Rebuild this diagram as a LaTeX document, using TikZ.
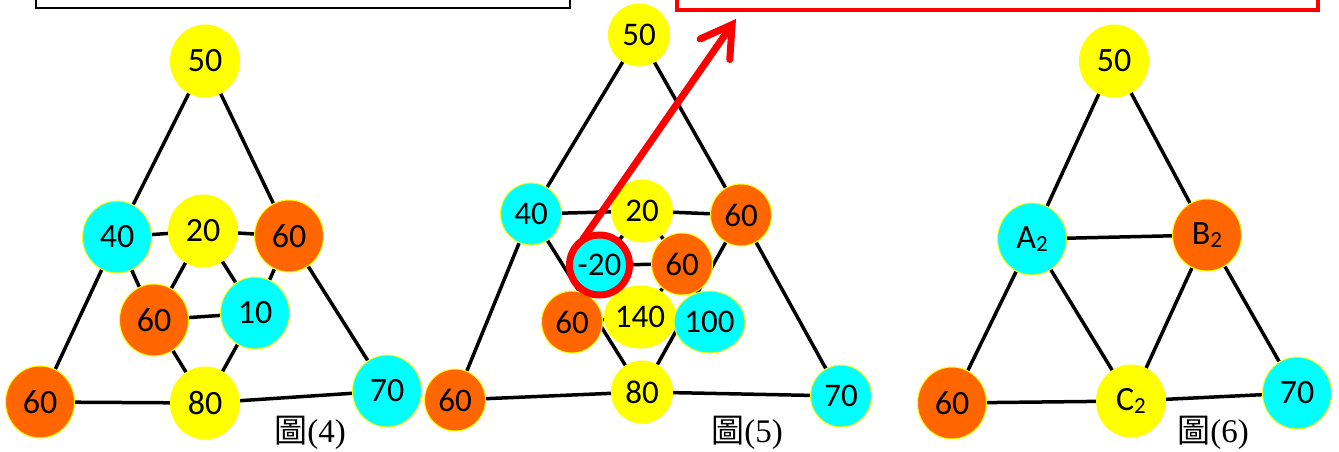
\documentclass[tikz,border=0pt]{standalone}
\usepackage{fontspec}
\setmainfont{Liberation Serif}
\newfontfamily\numfont{Carlito}
\newfontfamily\cjkfont{Noto Sans CJK TC}
\usetikzlibrary{shapes.geometric,arrows.meta,backgrounds}
\definecolor{cy}{HTML}{00FFFF}
\definecolor{og}{HTML}{FF6600}
\definecolor{ye}{HTML}{FFFF00}
\definecolor{rd}{HTML}{FF0000}
\newcommand{\subtwo}[1]{#1\raisebox{-3pt}{\fontsize{23}{23}\selectfont 2}}
\begin{document}
\begin{tikzpicture}[x=1pt,y=-1pt,
  big/.style={ellipse, minimum width=69pt, minimum height=72pt, inner sep=0pt,
              draw=ye, line width=1pt, font=\numfont\fontsize{34}{34}\selectfont},
  small/.style={big, minimum width=61pt, minimum height=62pt, font=\numfont\fontsize{33}{33}\selectfont},
  cyn/.style={fill=cy}, org/.style={fill=og}, yel/.style={fill=ye},
  link/.style={line width=3.5pt, black},
  lbl/.style={font=\fontsize{33}{33}\selectfont, inner sep=0pt}]
\useasboundingbox (0,0) rectangle (1339,452);
\clip (0,0) rectangle (1339,452);
% top boxes (only their lower parts are visible)
\draw[line width=2.2pt] (36,-40) rectangle (570,8);
\draw[rd, line width=4.5pt] (677,-40) rectangle (1318,10);

% ---------- Figure 4 ----------
\node[big,yel] (a50)  at (205,61)  {50};
\node[big,cyn] (a40)  at (117,237) {40};
\node[big,yel] (a20)  at (203,231) {20};
\node[big,org] (a60r) at (289,236) {60};
\node[big,org] (a60m) at (154,320) {60};
\node[big,cyn] (a10)  at (255,313) {10};
\node[big,org] (a60b) at (40,402)  {60};
\node[big,yel] (a80)  at (205,403) {80};
\node[big,cyn] (a70)  at (387,391) {70};

% ---------- Figure 5 ----------
\node[small,yel] (b50)  at (639,35)    {50};
\node[small,cyn] (b40)  at (531,214)   {40};
\node[small,yel] (b20)  at (642,211)   {20};
\node[small,org] (b60r) at (741,215)   {60};
\node[small,cyn] (bm20) at (599.5,265) {-20};
\node[small,org] (b60m) at (682,264)   {60};
\node[small,org] (b60l) at (572,322)   {60};
\node[small,yel] (b140) at (640,317)   {140};
\node[small,cyn] (b100) at (709.5,322) {100};
\node[small,org] (b60b) at (455,400)   {60};
\node[small,yel] (b80)  at (642,392)   {80};
\node[small,cyn] (b70)  at (841,396)   {70};

% ---------- Figure 6 ----------
\node[big,yel] (c50) at (1114,61)  {50};
\node[big,cyn] (cA)  at (1032,239) {\subtwo{A}};
\node[big,org] (cB)  at (1207,235) {\subtwo{B}};
\node[big,org] (c60) at (952,403)  {60};
\node[big,yel] (cC)  at (1131,401) {\subtwo{C}};
\node[big,cyn] (c70) at (1297,393) {70};

\begin{pgfonlayer}{background}
\foreach \u/\v in {a50/a40, a50/a60r, a40/a20, a20/a60r, a40/a60m, a20/a60m,
                   a20/a10, a60m/a10, a60r/a10, a60m/a80, a10/a80, a40/a60b,
                   a60r/a70, a60b/a80, a80/a70,
                   b50/b40, b50/b60r, b40/b20, b20/b60r, b40/b60b, b60r/b70,
                   b60b/b80, b80/b70, b40/b80, b60r/b80, bm20/b20, b20/b60m,
                   bm20/b60m, bm20/b140, b60m/b140, b60l/b140, b140/b100,
                   c50/cA, c50/cB, cA/cB, cA/c60, cA/cC, cB/cC, cB/c70,
                   c60/cC, cC/c70}
  \draw[link] (\u) -- (\v);
\end{pgfonlayer}

% red ring and arrow
\draw[rd, line width=7pt] (bm20.center) circle[radius=30pt];
\coordinate (as) at (583,239);
\coordinate (at) at (736,19);
\draw[rd, line width=7pt, line cap=round, line join=round,
      -{Straight Barb[length=30pt,width=36pt,line cap=round]}] (as) -- (at);

% captions
\node[lbl] (l4) at (310,433) {{\cjkfont 圖}(4)};
\node[lbl] (l5) at (747,433) {{\cjkfont 圖}(5)};
\node[lbl] (l6) at (1213,433) {{\cjkfont 圖}(6)};
\end{tikzpicture}
\end{document}
